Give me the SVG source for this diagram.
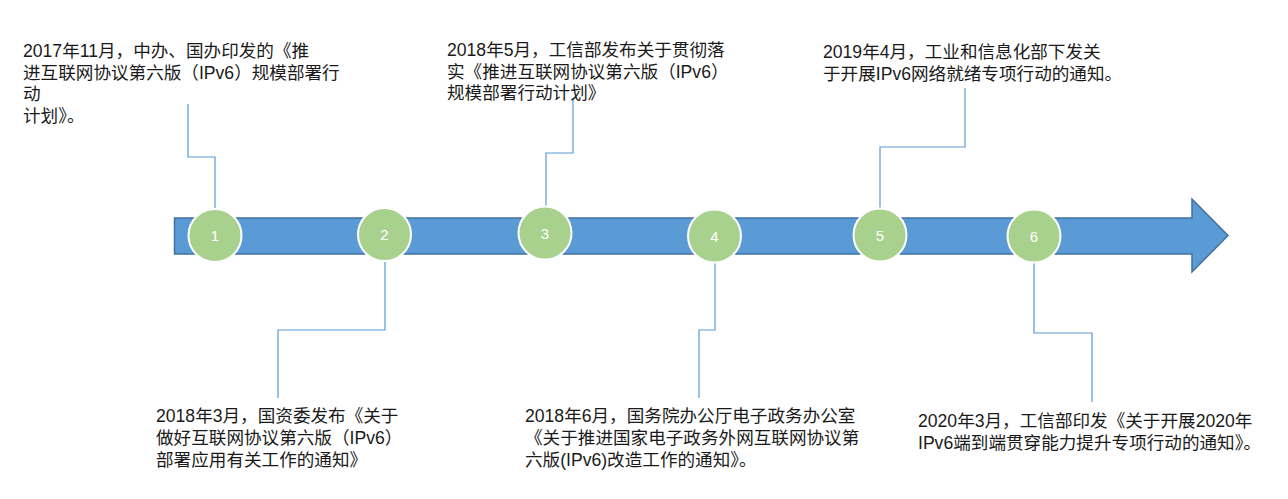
<svg xmlns="http://www.w3.org/2000/svg" width="1288" height="499" viewBox="0 0 1288 499">
<style>
.t{font-family:"Liberation Sans","Noto Sans CJK SC",sans-serif;font-size:17.6px;fill:#1a1a1a;}
.c{fill:#a9d18e;stroke:#fff;stroke-width:2;}
.n{font-family:"Liberation Sans",sans-serif;font-size:15px;fill:#fff;text-anchor:middle;}
.l{fill:none;stroke:#5b9bd5;stroke-width:1.2;}
</style>
<rect width="1288" height="499" fill="#fff"/>
<g id="timeline-arrow">
<path d="M174.5,218 L1192,218 L1192,199 L1228,235.5 L1192,272 L1192,254 L174.5,254 Z" fill="#5b9bd5" stroke="#41719c" stroke-width="1.5"/>
</g>
<g id="connectors">
<polyline class="l" points="215,209 215,157 188,157 188,104"/>
<polyline class="l" points="385,262 385,330 278,330 278,398"/>
<polyline class="l" points="546,207 546,153 573,153 573,100"/>
<polyline class="l" points="715,263 715,330 699,330 699,398"/>
<polyline class="l" points="880,208 880,147 965,147 965,88"/>
<polyline class="l" points="1034,263 1034,333 1092,333 1092,402"/>
</g>
<g id="node1"><circle class="c" cx="215" cy="235.5" r="26.5"/><text class="n" x="215" y="241">1</text></g>
<g id="node2"><circle class="c" cx="384.5" cy="234.5" r="26.5"/><text class="n" x="384.5" y="240">2</text></g>
<g id="node3"><circle class="c" cx="545" cy="233" r="26.5"/><text class="n" x="545" y="238.5">3</text></g>
<g id="node4"><circle class="c" cx="714.5" cy="236" r="26.5"/><text class="n" x="714.5" y="241.5">4</text></g>
<g id="node5"><circle class="c" cx="880" cy="235" r="26.5"/><text class="n" x="880" y="240.5">5</text></g>
<g id="node6"><circle class="c" cx="1034" cy="236" r="26.5"/><text class="n" x="1034" y="241.5">6</text></g>
<g id="label1"><text class="t" x="23" y="57">2017年11月，中办、国办印发的《推</text><text class="t" x="23" y="79">进互联网协议第六版（IPv6）规模部署行</text><text class="t" x="23" y="100">动</text><text class="t" x="23" y="122">计划》。</text></g>
<g id="label2"><text class="t" x="447" y="56">2018年5月，工信部发布关于贯彻落</text><text class="t" x="447" y="78">实《推进互联网协议第六版（IPv6）</text><text class="t" x="447" y="99">规模部署行动计划》</text></g>
<g id="label3"><text class="t" x="823" y="58">2019年4月，工业和信息化部下发关</text><text class="t" x="823" y="80">于开展IPv6网络就绪专项行动的通知。</text></g>
<g id="label4"><text class="t" x="156" y="422">2018年3月，国资委发布《关于</text><text class="t" x="156" y="444">做好互联网协议第六版（IPv6）</text><text class="t" x="156" y="466">部署应用有关工作的通知》</text></g>
<g id="label5"><text class="t" x="525" y="422">2018年6月，国务院办公厅电子政务办公室</text><text class="t" x="525" y="444">《关于推进国家电子政务外网互联网协议第</text><text class="t" x="525" y="466">六版(IPv6)改造工作的通知》。</text></g>
<g id="label6"><text class="t" x="918" y="427">2020年3月，工信部印发《关于开展2020年</text><text class="t" x="918" y="449">IPv6端到端贯穿能力提升专项行动的通知》。</text></g>
</svg>
